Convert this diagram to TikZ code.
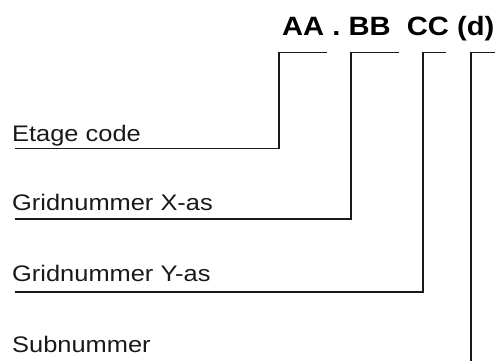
\documentclass[tikz,border=0pt]{standalone}
\usepackage{fontspec}
\setmainfont{Liberation Sans}
\newfontfamily\labelfont[FakeStretch=1.13]{Liberation Sans}
\newfontfamily\codefont[FakeStretch=1.1]{Liberation Sans Bold}
\begin{document}
\begin{tikzpicture}[x=1pt,y=-1pt,
  lead/.style={line width=1.9pt,line join=miter,black!90},
  lbl/.style={anchor=base west,inner sep=0pt,font=\labelfont\fontsize{22.5}{22.5}\selectfont,text=black!90},
  code/.style={anchor=base west,inner sep=0pt,font=\codefont\fontsize{26.5}{26.5}\selectfont,text=black}]
\useasboundingbox (0,0) rectangle (501,361);

% code header
\node[code] (hdr) at (282,36) {AA . BB\ \ CC (d)};

% field labels
\node[lbl] (etage) at (12,141) {Etage code};
\node[lbl] (gx)    at (12,210) {Gridnummer X-as};
\node[lbl] (gy)    at (12,281) {Gridnummer Y-as};
\node[lbl] (sub)   at (12,352) {Subnummer};

% bracket corners and leader ends
\coordinate (aR) at (327,52.5); \coordinate (aL) at (279,52.5);
\coordinate (bR) at (399,52.5); \coordinate (bL) at (351,52.5);
\coordinate (cR) at (446,52.5); \coordinate (cL) at (423,52.5);
\coordinate (dR) at (495,52.5); \coordinate (dL) at (471,52.5);
\coordinate (aE) at (15,148.5);
\coordinate (bE) at (15,219);
\coordinate (cE) at (15,292);
\coordinate (dE) at (471,361);

% leaders
\draw[lead] (aR) -- (aL) |- (aE);
\draw[lead] (bR) -- (bL) |- (bE);
\draw[lead] (cR) -- (cL) |- (cE);
\draw[lead] (dR) -- (dL) -- (dE);
\end{tikzpicture}
\end{document}
